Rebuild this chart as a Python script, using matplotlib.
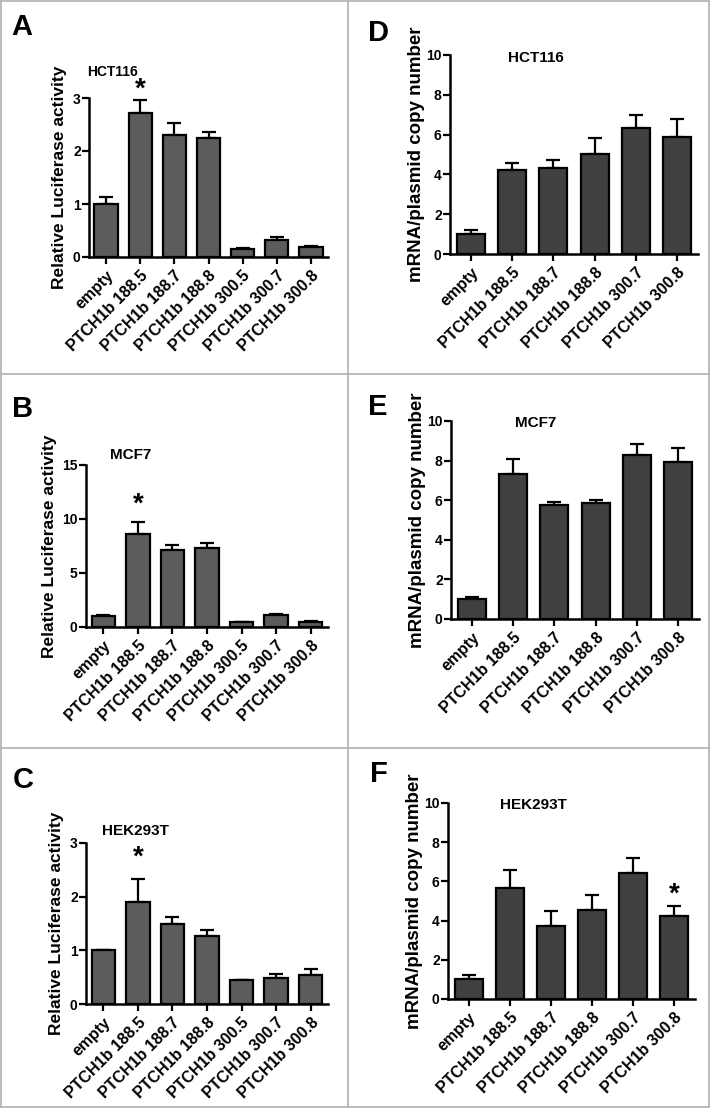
import matplotlib
matplotlib.use("Agg")
import matplotlib.pyplot as plt
from matplotlib.lines import Line2D

plt.rcParams['font.family'] = ['Liberation Sans', 'DejaVu Sans']
plt.rcParams['font.weight'] = 'bold'

W, H = 712, 1110

# x categories
luc_labels = ["empty", "PTCH1b 188.5", "PTCH1b 188.7", "PTCH1b 188.8",
              "PTCH1b 300.5", "PTCH1b 300.7", "PTCH1b 300.8"]
mrna_labels = ["empty", "PTCH1b 188.5", "PTCH1b 188.7", "PTCH1b 188.8",
               "PTCH1b 300.7", "PTCH1b 300.8"]

# luciferase (A-C)
hct_luc = [1.0, 2.72, 2.30, 2.24, 0.15, 0.33, 0.19]
hct_luc_err = [0.13, 0.25, 0.23, 0.11, 0.02, 0.04, 0.01]
mcf_luc = [1.05, 8.62, 7.17, 7.29, 0.43, 1.08, 0.49]
mcf_luc_err = [0.03, 1.10, 0.46, 0.49, 0.02, 0.10, 0.03]
hek_luc = [1.0, 1.90, 1.49, 1.27, 0.44, 0.48, 0.535]
hek_luc_err = [0.01, 0.43, 0.14, 0.10, 0.01, 0.07, 0.115]

# mRNA/plasmid copy number (D-F)
hct_mrna = [1.0, 4.23, 4.33, 5.02, 6.32, 5.87]
hct_mrna_err = [0.20, 0.34, 0.37, 0.82, 0.67, 0.92]
mcf_mrna = [1.0, 7.31, 5.76, 5.85, 8.27, 7.92]
mcf_mrna_err = [0.10, 0.76, 0.16, 0.17, 0.59, 0.72]
hek_mrna = [1.0, 5.66, 3.73, 4.53, 6.44, 4.21]
hek_mrna_err = [0.22, 0.92, 0.75, 0.77, 0.77, 0.53]

luc_ticks = [0, 1, 2, 3]
mcf_luc_ticks = [0, 5, 10, 15]
mrna_ticks = [0, 2, 4, 6, 8, 10]

fig = plt.figure(figsize=(W / 100, H / 100), dpi=100)


def px_axes(left, right, top, bottom):
    return fig.add_axes([left / W, 1 - bottom / H, (right - left) / W, (bottom - top) / H])


def panel(box, labels, vals, errs, ticks, color, ylabel, title, title_xy,
          star=None, title_fs=11, ylab_fs=12.5, ylab_pad=4):
    ax = px_axes(*box)
    x = list(range(len(labels)))
    ax.bar(x, vals, width=0.68, color=color, edgecolor="black", linewidth=1.6, zorder=2)
    ax.errorbar(x, vals, yerr=[[0] * len(errs), errs], fmt="none", ecolor="black",
                elinewidth=1.6, capsize=5, capthick=1.6, zorder=1)
    ax.set_xlim(-0.5, len(labels) - 0.5)
    ax.set_ylim(ticks[0], ticks[-1])
    ax.set_yticks(ticks)
    ax.set_xticks(x)
    ax.set_xticklabels(labels, rotation=45, ha="right", rotation_mode="anchor",
                       fontsize=11.5, fontweight="bold")
    ax.tick_params(axis="y", labelsize=10, width=1.6, length=5, pad=1)
    ax.tick_params(axis="x", width=1.6, length=5, pad=3)
    for s in ["top", "right"]:
        ax.spines[s].set_visible(False)
    for s in ["left", "bottom"]:
        ax.spines[s].set_linewidth(1.8)
    ax.set_ylabel(ylabel, fontsize=ylab_fs, fontweight="bold", labelpad=ylab_pad)
    fig.text(title_xy[0] / W, 1 - title_xy[1] / H, title, fontsize=title_fs,
             fontweight="bold", ha="center", va="center")
    if star is not None:
        ax.text(star[0], star[1], "*", fontsize=20, fontweight="bold",
                ha="center", va="center")
    return ax


luc_color = "#5c5c5c"
mrna_color = "#404040"

panel((89, 328, 98, 257), luc_labels, hct_luc, hct_luc_err, luc_ticks, luc_color,
      "Relative Luciferase activity", "HCT116", (113, 72), star=(1, 3.15), title_fs=10)
panel((86, 328, 465, 627), luc_labels, mcf_luc, mcf_luc_err, mcf_luc_ticks, luc_color,
      "Relative Luciferase activity", "MCF7", (131, 455), star=(1, 11.3))
panel((86, 328, 843, 1004), luc_labels, hek_luc, hek_luc_err, luc_ticks, luc_color,
      "Relative Luciferase activity", "HEK293T", (135, 831), star=(1, 2.72))
panel((450, 698, 55, 254), mrna_labels, hct_mrna, hct_mrna_err, mrna_ticks, mrna_color,
      "mRNA/plasmid copy number", "HCT116", (536, 58), ylab_fs=13.5, ylab_pad=1)
panel((451, 699, 421, 619), mrna_labels, mcf_mrna, mcf_mrna_err, mrna_ticks, mrna_color,
      "mRNA/plasmid copy number", "MCF7", (536, 423), ylab_fs=13.5, ylab_pad=1)
panel((448, 695, 803, 999), mrna_labels, hek_mrna, hek_mrna_err, mrna_ticks, mrna_color,
      "mRNA/plasmid copy number", "HEK293T", (533, 805), star=(5, 5.35), ylab_fs=13.5,
      ylab_pad=1)

# panel letters
for letter, (lx, ly) in zip("ABCDEF", [(22, 27), (23, 409), (23, 780),
                                       (378, 33), (378, 407), (379, 774)]):
    fig.text(lx / W, 1 - ly / H, letter, fontsize=21, fontweight="bold",
             ha="center", va="center")

# panel frames
frame = "#b0b0b0"
for y in [1, 374, 748, 1107]:
    fig.add_artist(Line2D([1 / W, 709 / W], [1 - y / H, 1 - y / H], color=frame, lw=1.2))
for xv in [1, 348, 709]:
    fig.add_artist(Line2D([xv / W, xv / W], [1 - 1 / H, 1 - 1107 / H], color=frame, lw=1.2))

fig.savefig("out.png", dpi=100)
